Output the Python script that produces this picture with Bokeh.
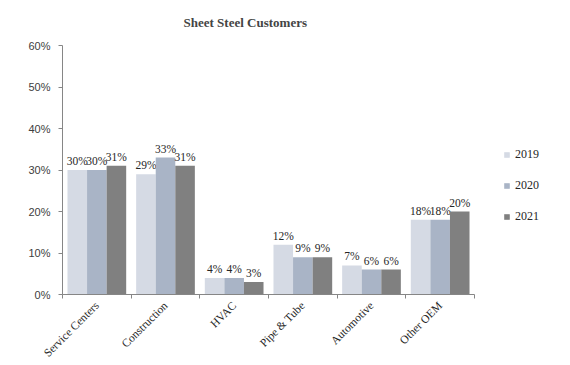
import math
from bokeh.plotting import figure
from bokeh.models import (ColumnDataSource, FixedTicker, NumeralTickFormatter, Legend, LegendItem, Range1d)
from bokeh.core.properties import value
from bokeh.embed import file_html
from bokeh.resources import INLINE

categories = ["Service Centers", "Construction", "HVAC", "Pipe & Tube", "Automotive", "Other OEM"]
years = ["2019", "2020", "2021"]
v2019 = [0.30, 0.29, 0.04, 0.12, 0.07, 0.18]
v2020 = [0.30, 0.33, 0.04, 0.09, 0.06, 0.18]
v2021 = [0.31, 0.31, 0.03, 0.09, 0.06, 0.20]
y_ticks = [0.0, 0.1, 0.2, 0.3, 0.4, 0.5, 0.6]

colors = ["#d5dae4", "#a9b4c6", "#808080"]
series = [v2019, v2020, v2021]

p = figure(frame_width=412, frame_height=249, output_backend="svg", toolbar_location=None,
           x_range=Range1d(0, len(categories)), y_range=Range1d(0, 0.6),
           min_border_left=62, min_border_right=10, min_border_top=10, min_border_bottom=0)
p.outline_line_color = None
p.xgrid.visible = False
p.ygrid.visible = False

p.title.text = "Sheet Steel Customers"
p.title.text_font = "Liberation Serif"
p.title.text_font_size = "13px"
p.title.text_font_style = "bold"
p.title.align = "left"
p.title.vertical_align = "top"
p.title.offset = 121
p.title.standoff = 28

bw = 0.285
offsets = [-bw, 0.0, bw]
renderers = []
for i, (vals, col, off) in enumerate(zip(series, colors, offsets)):
    xs = [k + 0.5 + off for k in range(len(categories))]
    src = ColumnDataSource(dict(x=xs, top=vals, lab=[f"{round(v*100)}%" for v in vals]))
    r = p.vbar(x="x", top="top", width=bw, source=src, fill_color=col, line_color=None)
    renderers.append(r)
    p.text(x="x", y="top", text="lab", source=src, text_align="center", text_baseline="bottom",
           y_offset=-3, text_font=value("Liberation Serif"), text_font_size="11.5px", text_color="#262626")

# x axis
centers = [k + 0.5 for k in range(len(categories))]
xa = p.xaxis[0]
xa.ticker = FixedTicker(ticks=centers, minor_ticks=list(range(len(categories) + 1)))
xa.major_label_overrides = {c: name for c, name in zip(centers, categories)}
xa.major_label_orientation = math.pi / 4
xa.major_tick_line_color = None
xa.minor_tick_in = 0
xa.minor_tick_out = 4
xa.minor_tick_line_color = "#868686"
xa.axis_line_color = "#868686"
xa.major_label_text_font = "Liberation Serif"
xa.major_label_text_font_size = "11.5px"
xa.major_label_text_color = "#262626"
xa.major_label_standoff = 3

ya = p.yaxis[0]
ya.ticker = FixedTicker(ticks=y_ticks)
ya.formatter = NumeralTickFormatter(format="0%")
ya.axis_line_color = "#868686"
ya.major_tick_line_color = "#868686"
ya.major_tick_in = 0
ya.major_tick_out = 4
ya.minor_tick_line_color = None
ya.major_label_text_font = "Liberation Sans"
ya.major_label_text_font_size = "11px"
ya.major_label_text_color = "#404040"
ya.major_label_standoff = 8

legend = Legend(items=[LegendItem(label=y, renderers=[r]) for y, r in zip(years, renderers)],
                location=(29, 70), spacing=16, glyph_width=7, glyph_height=7,
                label_text_font="Liberation Serif", label_text_font_size="12px",
                label_text_color="#262626", border_line_color=None, background_fill_alpha=0)
p.add_layout(legend, "right")

open("out.html", "w").write(file_html(p, INLINE))
